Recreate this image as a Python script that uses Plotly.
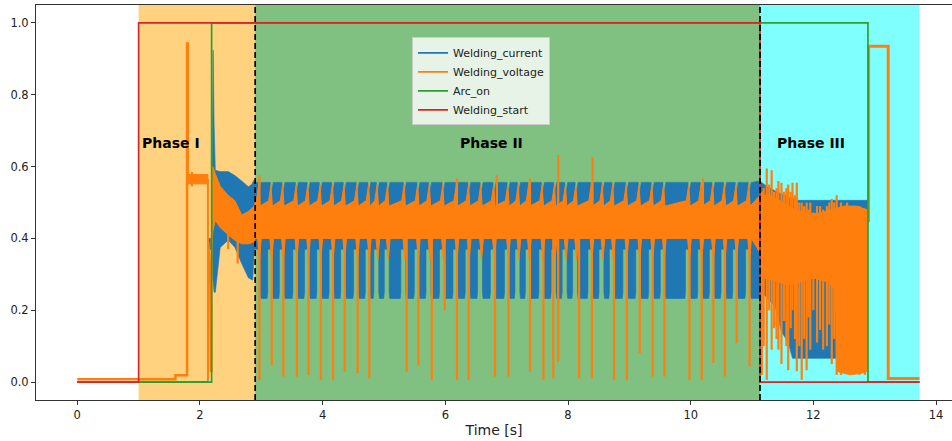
import plotly.graph_objects as go

# ---------------- data ----------------
# shaded welding phases [s]
phase_start = [1.0, 2.9, 11.13]
phase_end = [2.9, 11.13, 13.73]
phase_color = ["#ffd280", "#80c080", "#80ffff"]
phase_names = ["Phase I", "Phase II", "Phase III"]
phase_label_t = [1.52, 6.76, 11.96]
phase_label_v = 0.665
phase_borders = [2.9, 11.13]

# digital signals
start_t = [0.0, 1.0, 1.0, 11.13, 11.13, 13.73]
start_v = [0, 0, 1, 1, 0, 0]
arc_t = [0.0, 2.19, 2.19, 12.89, 12.89, 13.73]
arc_v = [0, 0, 1, 1, 0, 0]

# ---- Welding current ----
cur_idle_t = [0.0, 2.13, None, 12.88, 13.73]
cur_idle_v = [0, 0, None, 0, 0]
# ignition (phase I) envelope
cur_ign_up_t = [2.13, 2.14, 2.19, 2.20, 2.215, 2.23, 2.25, 2.33, 2.46, 2.57, 2.68, 2.79, 2.84, 2.88]
cur_ign_up_v = [0.0, 0.40, 0.40, 0.62, 0.924, 0.72, 0.59, 0.586, 0.586, 0.575, 0.56, 0.544, 0.55, 0.562]
cur_ign_lo_t = [2.13, 2.14, 2.19, 2.205, 2.23, 2.25, 2.33, 2.46, 2.57, 2.68, 2.79, 2.86, 2.886]
cur_ign_lo_v = [0.0, 0.37, 0.37, 0.30, 0.25, 0.25, 0.375, 0.395, 0.375, 0.33, 0.29, 0.284, 0.37]
# steady welding (phase II): times of the short-circuit events (gaps between current lobes)
cur_gap_t = [2.97, 3.17, 3.36, 3.58, 3.77, 3.97, 4.17, 4.36, 4.57, 4.76, 4.90, 5.07,
             5.34, 5.56, 5.75, 5.97, 6.19, 6.39, 6.59, 6.80, 7.03, 7.20, 7.37, 7.59,
             7.79, 7.97, 8.14, 8.39, 8.57, 8.74, 8.96, 9.17, 9.38, 9.57, 9.98, 10.18,
             10.37, 10.56, 10.75, 10.96]
cur_band_top = 0.556
cur_notch = 0.53
cur_lobe_bottom = 0.233
cur_gap_top = 0.42
# end of weld (phase III) envelope
cur_end_up_t = [11.13, 11.2, 11.4, 11.6, 11.75, 12.88]
cur_end_up_v = [0.56, 0.55, 0.53, 0.515, 0.506, 0.506]
cur_end_lo_t = [11.13, 11.16, 11.38, 11.48, 11.59, 11.66, 12.88]
cur_end_lo_v = [0.30, 0.25, 0.21, 0.14, 0.11, 0.066, 0.066]

# ---- Welding voltage ----
volt_pre_t = [0.0, 1.6, 1.6, 1.79, 1.79, 1.80, 1.80]
volt_pre_v = [0.008, 0.008, 0.019, 0.019, 0.943, 0.943, 0.565]
volt_open_t = [1.80, 2.13]
volt_open_hi = [0.578, 0.578]
volt_open_lo = [0.552, 0.552]
volt_fall_t = [2.13, 2.13, 2.14, 2.14, 2.17, 2.175, 2.19, 2.19]
volt_fall_v = [0.565, 0.006, 0.006, 0.39, 0.29, 0.03, 0.03, 0.40]
volt_ign_up_t = [2.19, 2.21, 2.25, 2.33, 2.46, 2.57, 2.68, 2.79, 2.88, 2.9]
volt_ign_up_v = [0.60, 0.60, 0.58, 0.545, 0.52, 0.505, 0.465, 0.475, 0.49, 0.50]
volt_ign_lo_t = [2.19, 2.21, 2.25, 2.33, 2.46, 2.57, 2.68, 2.79, 2.88, 2.9]
volt_ign_lo_v = [0.37, 0.42, 0.45, 0.43, 0.41, 0.395, 0.385, 0.385, 0.39, 0.40]
volt_band_top = 0.505
volt_band_tip = 0.55
volt_band_bottom = 0.40
volt_band_v = 0.34
volt_end_up_t = [11.13, 11.3, 11.5, 11.7, 11.9, 12.1, 12.3, 12.5, 12.7, 12.88]
volt_end_up_v = [0.52, 0.52, 0.50, 0.48, 0.47, 0.47, 0.48, 0.49, 0.49, 0.48]
volt_end_lo_t = [11.13, 11.2, 11.4, 11.6, 11.8, 12.0, 12.2, 12.36, 12.38, 12.6, 12.8, 12.88]
volt_end_lo_v = [0.36, 0.29, 0.28, 0.27, 0.28, 0.29, 0.28, 0.26, 0.03, 0.02, 0.025, 0.03]
# downward short-circuit spikes (phase I/II): time, minimum
volt_dip_t = [2.46, 2.615, 2.97, 3.17, 3.36, 3.58, 3.77, 3.97, 4.17, 4.36, 4.57, 4.76,
              5.37, 5.56, 5.78, 5.99, 6.19, 6.38, 6.81, 7.03, 7.38, 7.60, 7.76, 7.84,
              8.18, 8.39, 8.75, 8.96, 9.17, 9.38, 9.57, 9.98, 10.18, 10.37, 10.56,
              10.75, 10.96]
volt_dip_v = [0.37, 0.33, 0.005, 0.047, 0.015, 0.015, 0.02, 0.005, 0.005, 0.029, 0.025, 0.01,
              0.029, 0.047, 0.005, 0.20, 0.005, 0.005, 0.015, 0.015, 0.029, 0.005, 0.01, 0.056,
              0.01, 0.01, 0.005, 0.005, 0.08, 0.015, 0.015, 0.005, 0.005, 0.053, 0.015,
              0.108, 0.043]
# upward spikes (phase II): time, maximum
volt_peak_t = [2.97, 6.19, 6.84, 7.38, 7.84, 8.40, 10.2]
volt_peak_v = [0.576, 0.567, 0.576, 0.567, 0.632, 0.627, 0.567]
# spikes in phase I open-circuit band and phase III: time, low, high
volt_sp_t = [1.87, 11.16, 11.19, 11.24, 11.28, 11.32, 11.36, 11.40, 11.43, 11.48, 11.52,
             11.56, 11.59, 11.63, 11.66, 11.70, 11.73, 11.77, 11.81, 11.85, 11.89, 11.92,
             11.95, 12.00, 12.06, 12.11, 12.16, 12.22, 12.26, 12.30, 12.34, 12.38, 12.45,
             12.55, 12.65, 12.75, 12.84]
volt_sp_lo = [0.545, 0.02, 0.10, 0.006, 0.20, 0.09, 0.15, 0.12, 0.09, 0.05, 0.17,
              0.10, 0.033, 0.15, 0.20, 0.12, 0.03, 0.10, 0.006, 0.12, 0.033, 0.18,
              0.09, 0.20, 0.11, 0.145, 0.09, 0.10, 0.16, 0.05, 0.12, 0.02, 0.02,
              0.03, 0.02, 0.02, 0.02]
volt_sp_hi = [0.585, 0.53, 0.54, 0.595, 0.55, 0.59, 0.53, 0.54, 0.56, 0.555, 0.53,
              0.54, 0.55, 0.53, 0.555, 0.52, 0.555, 0.50, 0.50, 0.49, 0.50, 0.48,
              0.50, 0.47, 0.49, 0.49, 0.48, 0.49, 0.50, 0.51, 0.50, 0.52, 0.50,
              0.50, 0.49, 0.49, 0.47]
volt_post_t = [12.88, 12.9, 12.9, 13.22, 13.22, 13.73]
volt_post_v = [0.45, 0.45, 0.935, 0.935, 0.01, 0.01]

series_names = ["Welding_current", "Welding_voltage", "Arc_on", "Welding_start"]
series_colors = ["#1f77b4", "#ff7f0e", "#2ca02c", "#d62728"]

x_ticks = [0, 2, 4, 6, 8, 10, 12, 14]
y_ticks = [0.0, 0.2, 0.4, 0.6, 0.8, 1.0]

# ---------------- build shapes of the dense signals ----------------
BLUE, ORANGE, GREEN, RED = series_colors
GAP_SHIFT = -0.025   # current gap opens just before the voltage spike

# current: upper band polygon (whole weld) + one lobe polygon per cycle in phase II
up_t = cur_ign_up_t + [2.9]
up_v = cur_ign_up_v + [cur_band_top]
for g in cur_gap_t:
    up_t += [g - 0.025, g, g + 0.025]
    up_v += [cur_band_top, cur_notch, cur_band_top]
up_t += cur_end_up_t
up_v += cur_end_up_v
lo_t = cur_ign_lo_t + [2.9, 11.13] + cur_end_lo_t
lo_v = cur_ign_lo_v + [0.37, 0.37] + cur_end_lo_v
cur_poly_t = up_t + lo_t[::-1]
cur_poly_v = up_v + lo_v[::-1]

# lobes of the current between short-circuit gaps (phase II)
edges = [2.9] + [g + GAP_SHIFT for g in cur_gap_t] + [11.13]
lobe_t, lobe_v = [], []
for a, b in zip(edges[:-1], edges[1:]):
    l0 = a + 0.04 if a > 2.9 else a
    l1 = b - 0.04 if b < 11.13 else b
    if l1 - l0 < 0.03:
        continue
    lobe_t += [l0, l0, l0 + 0.01, l1 - 0.01, l1, l1, None]
    lobe_v += [0.40, 0.25, cur_lobe_bottom, cur_lobe_bottom, 0.25, 0.40, None]

# voltage band polygon
v2_up_t, v2_up_v, v2_lo_t, v2_lo_v = [], [], [], []
for g in cur_gap_t:
    v2_up_t += [g - 0.05, g - 0.012, g + 0.01]
    v2_up_v += [volt_band_top, volt_band_tip, volt_band_top - 0.015]
    v2_lo_t += [g - 0.03, g, g + 0.03]
    v2_lo_v += [volt_band_bottom, volt_band_v, volt_band_bottom]
vu_t = volt_ign_up_t + v2_up_t + volt_end_up_t
vu_v = volt_ign_up_v + v2_up_v + volt_end_up_v
vl_t = volt_ign_lo_t + v2_lo_t + volt_end_lo_t
vl_v = volt_ign_lo_v + v2_lo_v + volt_end_lo_v
volt_poly_t = vu_t + vl_t[::-1]
volt_poly_v = vu_v + vl_v[::-1]
open_poly_t = volt_open_t + volt_open_t[::-1]
open_poly_v = volt_open_hi + volt_open_lo[::-1]

spk_t, spk_v = [], []
for t, v in zip(volt_dip_t, volt_dip_v):
    spk_t += [t, t, None]
    spk_v += [0.47, v, None]
for t, v in zip(volt_peak_t, volt_peak_v):
    spk_t += [t, t, None]
    spk_v += [0.47, v, None]
for t, lo, hi in zip(volt_sp_t, volt_sp_lo, volt_sp_hi):
    spk_t += [t, t, None]
    spk_v += [lo, hi, None]

# ---------------- figure ----------------
fig = go.Figure()
common = dict(hoverinfo="skip", showlegend=False)

fig.add_trace(go.Scatter(x=cur_idle_t, y=cur_idle_v, mode="lines",
                         line=dict(color=BLUE, width=1.7), **common))
fig.add_trace(go.Scatter(x=cur_poly_t, y=cur_poly_v, mode="lines", fill="toself",
                         fillcolor=BLUE, line=dict(color=BLUE, width=0.6, simplify=False),
                         **common))
fig.add_trace(go.Scatter(x=lobe_t, y=lobe_v, mode="lines", fill="toself",
                         fillcolor=BLUE, line=dict(color=BLUE, width=0.6, simplify=False),
                         **common))

fig.add_trace(go.Scatter(x=volt_pre_t, y=volt_pre_v, mode="lines",
                         line=dict(color=ORANGE, width=2.5), **common))
fig.add_trace(go.Scatter(x=open_poly_t, y=open_poly_v, mode="lines", fill="toself",
                         fillcolor=ORANGE, line=dict(color=ORANGE, width=1), **common))
fig.add_trace(go.Scatter(x=volt_fall_t, y=volt_fall_v, mode="lines",
                         line=dict(color=ORANGE, width=2), **common))
fig.add_trace(go.Scatter(x=volt_poly_t, y=volt_poly_v, mode="lines", fill="toself",
                         fillcolor=ORANGE, line=dict(color=ORANGE, width=1, simplify=False),
                         **common))
fig.add_trace(go.Scatter(x=spk_t, y=spk_v, mode="lines",
                         line=dict(color=ORANGE, width=2.2, simplify=False), **common))
fig.add_trace(go.Scatter(x=volt_post_t, y=volt_post_v, mode="lines",
                         line=dict(color=ORANGE, width=3), **common))

fig.add_trace(go.Scatter(x=arc_t, y=arc_v, mode="lines",
                         line=dict(color=GREEN, width=1.7), **common))
fig.add_trace(go.Scatter(x=start_t, y=start_v, mode="lines",
                         line=dict(color=RED, width=1.7), **common))

# legend entries
for name, col in zip(series_names, series_colors):
    fig.add_trace(go.Scatter(x=[None], y=[None], mode="lines", name=name,
                             line=dict(color=col, width=1.7), showlegend=True))

shapes = []
for s, e, c in zip(phase_start, phase_end, phase_color):
    shapes.append(dict(type="rect", xref="x", yref="paper", x0=s, x1=e, y0=0, y1=1,
                       fillcolor=c, line=dict(width=0), layer="below"))
for b in phase_borders:
    shapes.append(dict(type="line", xref="x", yref="paper", x0=b, x1=b, y0=0, y1=1,
                       line=dict(color="black", width=1.7, dash="6px,3px"), layer="above"))

annotations = [dict(x=t, y=phase_label_v, xref="x", yref="y", text="<b>%s</b>" % n,
                    showarrow=False, xanchor="center", yanchor="middle",
                    font=dict(family="DejaVu Sans", size=14, color="black"))
               for t, n in zip(phase_label_t, phase_names)]

fig.update_layout(
    width=952, height=441,
    margin=dict(l=36, r=0, t=5, b=41),
    paper_bgcolor="white", plot_bgcolor="white",
    font=dict(family="DejaVu Sans", size=11.5, color="#222"),
    shapes=shapes, annotations=annotations,
    hovermode=False,
    legend=dict(x=0.4105, y=0.918, xanchor="left", yanchor="top",
                bgcolor="rgba(255,255,255,0.8)", bordercolor="#cccccc", borderwidth=1,
                font=dict(size=11, color="#222"), itemwidth=30,
                tracegroupgap=0),
)
fig.update_xaxes(range=[-0.673, 14.26], tickvals=x_ticks, ticktext=[str(v) for v in x_ticks],
                 showgrid=False, zeroline=False, showline=True, mirror=True,
                 linecolor="#333", linewidth=1, ticks="outside", ticklen=4,
                 tickcolor="#333", title=dict(text="Time [s]", standoff=4))
fig.update_yaxes(range=[-0.05, 1.05], tickvals=y_ticks, ticktext=["%.1f" % v for v in y_ticks],
                 showgrid=False, zeroline=False, showline=True, mirror=False,
                 linecolor="#333", linewidth=1, ticks="outside", ticklen=4, tickcolor="#333")

fig.write_html("out.html")
